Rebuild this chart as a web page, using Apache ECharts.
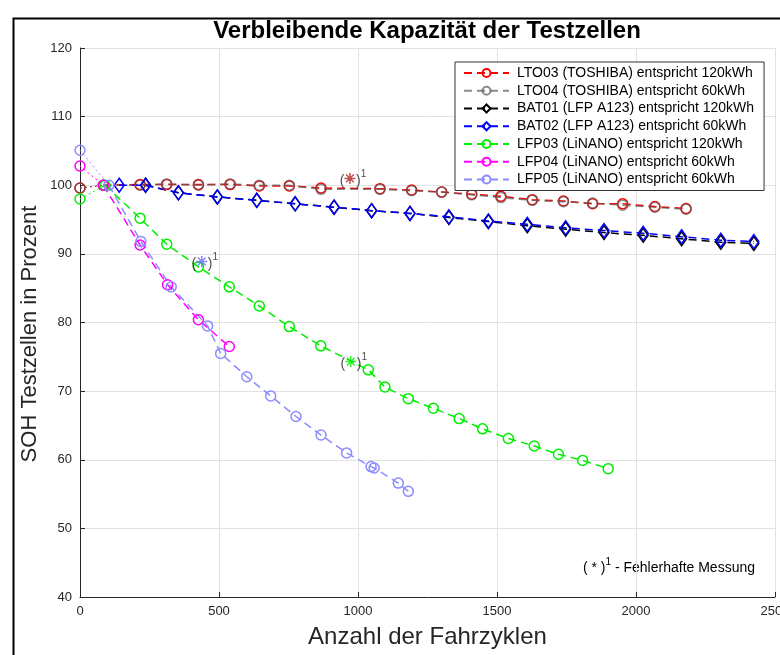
<!DOCTYPE html>
<html>
<head>
<meta charset="utf-8">
<script src="https://cdn.jsdelivr.net/npm/echarts@6/dist/echarts.min.js"></script>
<style>
  html, body { margin: 0; padding: 0; background: #fff; }
  #chart { width: 780px; height: 655px; }
</style>
</head>
<body>
<div id="chart"></div>
<script>
// --- data (cycles / SOH in %) ---
var ltoCycles = [0, 84, 216, 312, 426, 540, 645, 753, 867, 1079, 1193, 1301, 1409, 1514, 1627, 1739, 1844, 1952, 2068, 2180];
var lto03Soh = [99.6, 100.0, 100.1, 100.1, 100.1, 100.1, 99.9, 99.9, 99.6, 99.5, 99.3, 99.0, 98.7, 98.4, 97.9, 97.7, 97.3, 97.3, 96.9, 96.6];
var lto04Soh = [99.6, 100.0, 100.0, 100.2, 100.0, 100.2, 100.0, 100.0, 99.4, 99.4, 99.2, 99.0, 98.6, 98.2, 97.8, 97.6, 97.4, 97.1, 96.8, 96.5];

var bat02Cycles = [141, 236, 354, 494, 636, 774, 914, 1049, 1187, 1327, 1469, 1609, 1747, 1885, 2026, 2164, 2305, 2424];
var bat02Soh = [100.0, 100.0, 98.9, 98.3, 97.8, 97.3, 96.8, 96.3, 95.9, 95.4, 94.8, 94.3, 93.8, 93.4, 93.0, 92.5, 92.0, 91.8];
var bat01Cycles = [236, 354, 494, 636, 774, 914, 1049, 1187, 1327, 1469, 1609, 1747, 1885, 2026, 2164, 2305, 2424];
var bat01Soh = [100.0, 98.9, 98.3, 97.8, 97.3, 96.8, 96.3, 95.9, 95.3, 94.7, 94.1, 93.6, 93.1, 92.7, 92.2, 91.7, 91.5];

var lfp03Cycles = [0, 90, 216, 312, 426, 537, 645, 753, 866, 1037, 1097, 1181, 1271, 1364, 1448, 1541, 1634, 1721, 1808, 1900];
var lfp03Soh = [98.0, 100.0, 95.2, 91.4, 88.1, 85.2, 82.4, 79.4, 76.6, 73.1, 70.6, 68.9, 67.5, 66.0, 64.5, 63.1, 62.0, 60.8, 59.9, 58.7];

var lfp04Cycles = [0, 84, 216, 315, 426, 537];
var lfp04Soh = [102.8, 100.0, 91.3, 85.5, 80.4, 76.5];

var lfp05Cycles = [0, 104, 219, 328, 459, 506, 600, 686, 777, 867, 959, 1047, 1058, 1145, 1181];
var lfp05Soh = [105.1, 100.0, 91.8, 85.2, 79.5, 75.5, 72.1, 69.3, 66.3, 63.6, 61.0, 59.0, 58.8, 56.6, 55.4];

// faulty measurements (*)^1
var ltoFaulty = [[971, 101.0]];
var lfp05Faulty = [[438, 88.9]];
var lfp03Faulty = [[974, 74.3]];

var xTicks = { min: 0, max: 2500, step: 500 };
var yTicks = { min: 40, max: 120, step: 10 };

var seriesNames = [
  'LTO03 (TOSHIBA) entspricht 120kWh',
  'LTO04 (TOSHIBA) entspricht 60kWh',
  'BAT01 (LFP A123) entspricht 120kWh',
  'BAT02 (LFP A123) entspricht 60kWh',
  'LFP03 (LiNANO) entspricht 120kWh',
  'LFP04 (LiNANO) entspricht 60kWh',
  'LFP05 (LiNANO) entspricht 60kWh'
];

var red = '#ff0000', gray = 'rgba(90,90,90,0.7)', black = '#000000', blue = '#0000ff';
var green = '#00ee00', magenta = '#ff00ff', lightBlue = '#8c8cff';
var axisCol = '#262626';
var font = 'Liberation Sans';
var asterisk = 'path://M0,6L12,6M6,0L6,12M1.8,1.8L10.2,10.2M1.8,10.2L10.2,1.8';

function pairs(xs, ys) {
  var out = [];
  for (var i = 0; i < ys.length; i++) out.push([xs[i], ys[i]]);
  return out;
}

// dashed series starting after the first (dotted) segment
function mainLine(name, xs, ys, col, sym, size, from) {
  return {
    name: name,
    type: 'line',
    data: pairs(xs, ys).slice(from),
    symbol: sym,
    symbolSize: size,
    showAllSymbol: true,
    lineStyle: { color: col, width: 1.5, type: [8, 5] },
    itemStyle: { color: 'rgba(255,255,255,0)', borderColor: col, borderWidth: 1.5 }
  };
}

// dotted start segment from cycle 0
function startLine(xs, ys, col) {
  var d = pairs(xs, ys).slice(0, 2);
  return {
    type: 'line',
    data: [{ value: d[0] }, { value: d[1], symbol: 'none' }],
    symbol: 'circle',
    symbolSize: 10,
    lineStyle: { color: col, width: 1, type: [2, 3] },
    itemStyle: { color: 'rgba(255,255,255,0)', borderColor: col, borderWidth: 1.5 },
    silent: true
  };
}

function faulty(pts, col) {
  return {
    type: 'scatter',
    data: pts,
    symbol: asterisk,
    symbolSize: 11,
    itemStyle: { color: 'rgba(0,0,0,0)', borderColor: col, borderWidth: 1.5 },
    label: {
      show: true,
      position: 'inside',
      offset: [3, 0],
      formatter: '{p|(   )}{s|1}',
      rich: {
        p: { fontSize: 14, color: '#222', fontFamily: font, verticalAlign: 'bottom' },
        s: { fontSize: 10, color: '#222', fontFamily: font, verticalAlign: 'bottom', padding: [0, 0, 9, 0] }
      }
    },
    z: 5
  };
}

var chart = echarts.init(document.getElementById('chart'), null, { renderer: 'canvas' });
chart.setOption({
  animation: false,
  backgroundColor: '#fff',
  textStyle: { fontFamily: font },
  grid: { left: 80, top: 48, right: 5, bottom: 58, containLabel: false, outerBoundsMode: 'none' },
  legend: {
    data: seriesNames,
    orient: 'vertical',
    left: 455,
    top: 62,
    padding: [3, 10, 3, 8],
    itemWidth: 45,
    itemHeight: 10,
    itemGap: 1.75,
    backgroundColor: '#fff',
    borderColor: '#333',
    borderWidth: 1,
    textStyle: { color: '#000', fontSize: 14, lineHeight: 16, fontFamily: font, padding: [0, 0, 0, 3] }
  },
  xAxis: {
    type: 'value',
    min: xTicks.min, max: xTicks.max, interval: xTicks.step,
    name: 'Anzahl der Fahrzyklen',
    nameLocation: 'middle',
    nameGap: 28,
    nameTextStyle: { color: axisCol, fontSize: 24, fontFamily: font },
    axisLine: { lineStyle: { color: axisCol, width: 1 } },
    axisTick: { inside: true, length: 5, lineStyle: { color: axisCol } },
    axisLabel: { color: axisCol, fontSize: 13, margin: 8, fontFamily: font,
      formatter: function(v) { return String(v); } },
    splitLine: { lineStyle: { color: '#e2e2e2' } }
  },
  yAxis: {
    type: 'value',
    min: yTicks.min, max: yTicks.max, interval: yTicks.step,
    axisLine: { show: true, lineStyle: { color: axisCol, width: 1 } },
    axisTick: { show: true, inside: true, length: 5, lineStyle: { color: axisCol } },
    axisLabel: { color: axisCol, fontSize: 13, margin: 8, fontFamily: font,
      formatter: function(v) { return String(v); } },
    splitLine: { lineStyle: { color: '#e2e2e2' } }
  },
  graphic: [
    { type: 'rect', left: 11, top: 16, silent: true,
      shape: { width: 900, height: 800 },
      style: { fill: 'none', stroke: '#000', lineWidth: 2 } },
    { type: 'text', x: 427, y: 31, silent: true,
      style: { text: 'Verbleibende Kapazität der Testzellen', align: 'center', verticalAlign: 'middle',
        fill: '#000', font: 'bold 24px "Liberation Sans"' } },
    { type: 'text', x: 30, y: 334, rotation: Math.PI / 2, silent: true,
      style: { text: 'SOH Testzellen in Prozent', align: 'center', verticalAlign: 'middle',
        fill: axisCol, font: '22px "Liberation Sans"' } },
    { type: 'text', x: 755, y: 566, silent: true,
      style: { text: '{a|( * )}{s|1}{a| - Fehlerhafte Messung}', align: 'right', verticalAlign: 'middle',
        rich: {
          a: { fontSize: 14, fill: '#000', fontFamily: font, verticalAlign: 'bottom' },
          s: { fontSize: 10, fill: '#000', fontFamily: font, verticalAlign: 'bottom', padding: [0, 0, 8, 0] }
        } } }
  ],
  series: [
    startLine(ltoCycles, lto03Soh, red),
    mainLine(seriesNames[0], ltoCycles, lto03Soh, red, 'circle', 10, 1),
    startLine(ltoCycles, lto04Soh, gray),
    mainLine(seriesNames[1], ltoCycles, lto04Soh, gray, 'circle', 10, 1),
    mainLine(seriesNames[2], bat01Cycles, bat01Soh, black, 'diamond', [10, 14], 0),
    mainLine(seriesNames[3], bat02Cycles, bat02Soh, blue, 'diamond', [10, 14], 0),
    startLine(lfp03Cycles, lfp03Soh, green),
    mainLine(seriesNames[4], lfp03Cycles, lfp03Soh, green, 'circle', 10, 1),
    startLine(lfp04Cycles, lfp04Soh, magenta),
    mainLine(seriesNames[5], lfp04Cycles, lfp04Soh, magenta, 'circle', 10, 1),
    startLine(lfp05Cycles, lfp05Soh, lightBlue),
    mainLine(seriesNames[6], lfp05Cycles, lfp05Soh, lightBlue, 'circle', 10, 1),
    faulty(ltoFaulty, '#b02020'),
    faulty(lfp05Faulty, '#6a6aff'),
    faulty(lfp03Faulty, green)
  ]
});
</script>
</body>
</html>
